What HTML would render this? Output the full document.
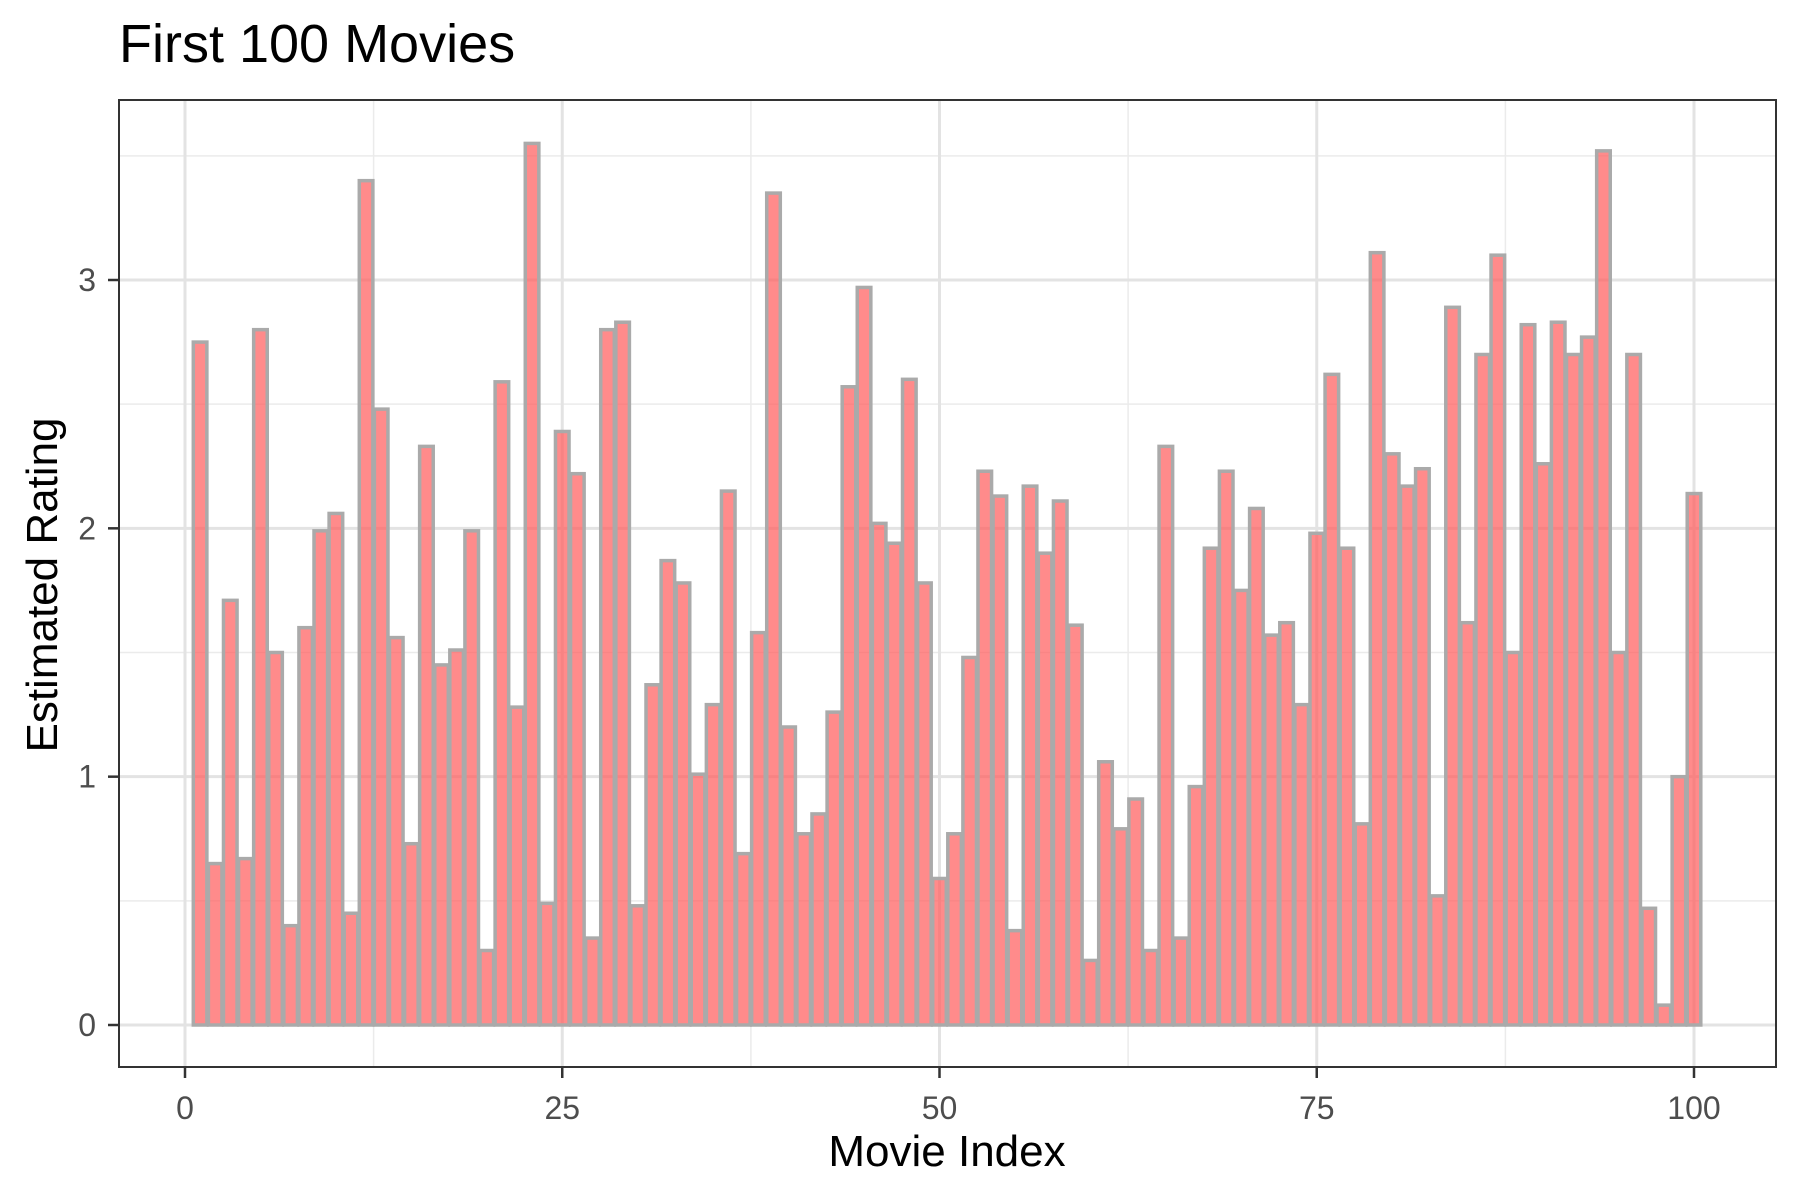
<!DOCTYPE html>
<html><head><meta charset="utf-8"><style>body{margin:0;background:#fff}svg{display:block;font-family:"Liberation Sans",Arial,sans-serif}</style></head>
<body>
<svg id="chart" width="1800" height="1200" xmlns="http://www.w3.org/2000/svg"></svg>
<script>
const categories = Array.from({length:100},(_, i)=>i+1);
const ratings = [2.75,0.65,1.71,0.67,2.80,1.50,0.40,1.60,1.99,2.06,0.45,3.40,2.48,1.56,0.73,2.33,1.45,1.51,1.99,0.30,
2.59,1.28,3.55,0.49,2.39,2.22,0.35,2.80,2.83,0.48,1.37,1.87,1.78,1.01,1.29,2.15,0.69,1.58,3.35,1.20,
0.77,0.85,1.26,2.57,2.97,2.02,1.94,2.60,1.78,0.59,0.77,1.48,2.23,2.13,0.38,2.17,1.90,2.11,1.61,0.26,
1.06,0.79,0.91,0.30,2.33,0.35,0.96,1.92,2.23,1.75,2.08,1.57,1.62,1.29,1.98,2.62,1.92,0.81,3.11,2.30,
2.17,2.24,0.52,2.89,1.62,2.70,3.10,1.50,2.82,2.26,2.83,2.70,2.77,3.52,1.50,2.70,0.47,0.08,1.00,2.14];
const xTicks = [0,25,50,75,100];
const yTicks = [0,1,2,3];
const NS="http://www.w3.org/2000/svg";
const svg=document.getElementById('chart');
const L=119,T=100,R=1776,B=1067;
const x=v=>185+v*(1694-185)/100;
const y=v=>1025-v*(1025-280)/3;
function mk(tag,attrs,parent){const e=document.createElementNS(NS,tag);for(const k in attrs)e.setAttribute(k,attrs[k]);(parent||svg).appendChild(e);return e;}
mk('rect',{x:L,y:T,width:R-L,height:B-T,fill:'#fff'});
for(let v=-12.5;v<=112.5;v+=25){const px=x(v);if(px>L&&px<R){const g=mk('line',{x1:px,x2:px,y1:T,y2:B,stroke:'#ebebeb','stroke-width':1.5});}}
for(let v=0.5;v<=3.5;v+=1){const g=mk('line',{x1:L,x2:R,y1:y(v),y2:y(v),stroke:'#ebebeb','stroke-width':1.5});}
xTicks.forEach(v=>{const g=mk('line',{x1:x(v),x2:x(v),y1:T,y2:B,stroke:'#e3e3e3','stroke-width':3});});
yTicks.forEach(v=>{const g=mk('line',{x1:L,x2:R,y1:y(v),y2:y(v),stroke:'#e3e3e3','stroke-width':3});});
categories.forEach((c,i)=>{const w=(x(0.9)-x(0));const r=mk('rect',{x:x(c)-w/2,y:y(ratings[i]),width:w,height:y(0)-y(ratings[i]),fill:'rgba(255,90,90,0.7)',stroke:'#aaaaaa','stroke-width':3.5});

});
const fr=mk('rect',{x:L,y:T,width:R-L,height:B-T,fill:'none',stroke:'#333','stroke-width':2});
xTicks.forEach(v=>{mk('line',{x1:x(v),x2:x(v),y1:B,y2:B+11,stroke:'#333','stroke-width':2.5});const t=mk('text',{x:x(v),y:1119,'text-anchor':'middle','font-size':32,fill:'#4d4d4d'});t.textContent=v;});
yTicks.forEach(v=>{mk('line',{x1:L-11,x2:L,y1:y(v),y2:y(v),stroke:'#333','stroke-width':2.5});const t=mk('text',{x:96,y:y(v)+11,'text-anchor':'end','font-size':32,fill:'#4d4d4d'});t.textContent=v;});
</script>
<svg style="position:absolute;left:0;top:0" width="1800" height="1200" xmlns="http://www.w3.org/2000/svg">
<text x="119" y="62" font-size="54" fill="#000">First 100 Movies</text>
<text x="947" y="1166" font-size="44" text-anchor="middle" fill="#000">Movie Index</text>
<text transform="translate(57,585) rotate(-90)" font-size="44" text-anchor="middle" fill="#000">Estimated Rating</text>
</svg>
</body></html>
